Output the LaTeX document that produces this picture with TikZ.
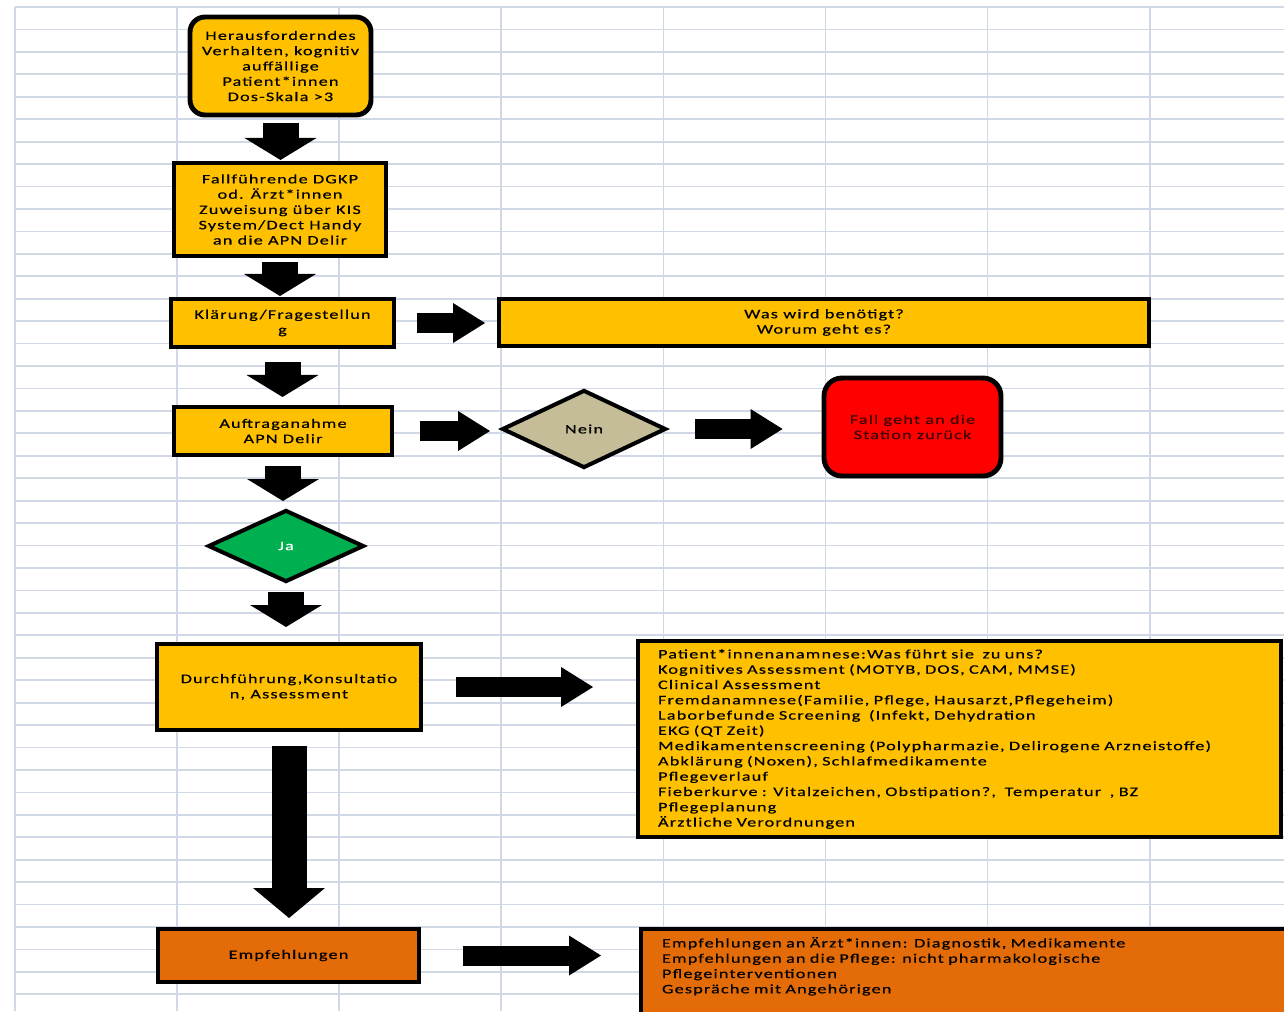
\documentclass[tikz,border=0pt]{standalone}
\usepackage{fontspec}
\usepackage{tikz}
\usetikzlibrary{shapes.geometric,arrows.meta}
\setmainfont{Carlito}[FakeStretch=1.4,LetterSpace=9,FakeBold=0.4]
\definecolor{boxyellow}{RGB}{255,192,0}
\definecolor{boxorange}{RGB}{227,108,9}
\definecolor{neinbeige}{RGB}{196,189,151}
\definecolor{jagreen}{RGB}{0,176,80}
\definecolor{stopred}{RGB}{255,0,0}
\definecolor{gridblue}{RGB}{208,215,229}

\begin{document}
\begin{tikzpicture}[x=0.02cm,y=-0.02cm,
  every node/.style={font=\fontsize{7.4}{8.7}\selectfont},
  flowbox/.style={draw=black,line width=2.3pt,fill=boxyellow,align=center,inner sep=0pt},
  decision/.style={diamond,draw=black,line width=2.3pt,inner sep=0pt},
  downarrow/.style={line width=0.72cm,-{Triangle[length=0.44cm,width=1.44cm,line width=0pt]}},
  longarrow/.style={line width=0.7cm,-{Triangle[length=0.6cm,width=1.44cm,line width=0pt]}},
  rightarrow/.style={line width=0.4cm,-{Triangle[length=0.64cm,width=0.8cm,line width=0pt]}},
  gridline/.style={gridblue,line width=1pt}]
\useasboundingbox (0,0) rectangle (1284,1011);
\fill[white] (0,0) rectangle (1284,1011);
\clip (0,0) rectangle (1284,1011);

% Spreadsheet grid
\foreach \k in {0,...,44}
  \draw[gridline] (15,{7+22.44*\k}) -- (1284,{7+22.44*\k});
\foreach \k in {0,...,7}
  \draw[gridline] ({15+162.1*\k},7) -- ({15+162.1*\k},1011);

% Main path
\node[flowbox,rounded corners=0.3cm,line width=2.8pt,minimum width=3.62cm,minimum height=1.96cm] (start) at (280.5,66)
  {Herausforderndes\\Verhalten, kognitiv\\auffällige\\Patient*innen\\Dos-Skala >3};
\node[flowbox,minimum width=4.24cm,minimum height=1.86cm] (zuweisung) at (280,209.5)
  {Fallführende DGKP\\od. Ärzt*innen\\Zuweisung über KIS\\System/Dect Handy\\an die APN Delir};
\node[flowbox,minimum width=4.46cm,minimum height=0.96cm] (klaerung) at (282.5,323) {Klärung/Fragestellun\\g};
\node[flowbox,minimum width=4.36cm,minimum height=0.96cm] (auftrag) at (283,431) {Auftraganahme\\APN Delir};
\node[decision,fill=jagreen,text=white,minimum width=3.12cm,minimum height=1.44cm] (ja) at (286,546) {Ja};
\node[flowbox,minimum width=5.28cm,minimum height=1.72cm] (durch) at (289,687) {Durchführung,Konsultatio\\n, Assessment};
\node[flowbox,fill=boxorange,minimum width=5.22cm,minimum height=1.06cm] (empf) at (288.5,955.5) {Empfehlungen};

% Side branches
\node[flowbox,minimum width=13cm,minimum height=0.94cm] (bedarf) at (824,322.5) {Was wird benötigt?\\Worum geht es?};
\node[decision,fill=neinbeige,minimum width=3.28cm,minimum height=1.56cm] (nein) at (584,429) {Nein};
\node[flowbox,fill=stopred,rounded corners=0.36cm,line width=2.8pt,text=red!25!black,minimum width=3.54cm,minimum height=1.96cm] (station) at (912.5,427)
  {Fall geht an die\\Station zurück};
\node[flowbox,align=left,text width=12.06cm,inner xsep=0.4cm,minimum height=3.92cm] (assessment) at (959.5,739)
  {Patient*innenanamnese:Was führt sie\ \ zu uns?\\
   Kognitives Assessment (MOTYB, DOS, CAM, MMSE)\\
   Clinical Assessment\\
   Fremdanamnese(Familie, Pflege, Hausarzt,Pflegeheim)\\
   Laborbefunde Screening\ \ (Infekt, Dehydration\\
   EKG (QT Zeit)\\
   Medikamentenscreening (Polypharmazie, Delirogene Arzneistoffe)\\
   Abklärung (Noxen), Schlafmedikamente\\
   Pflegeverlauf\\
   Fieberkurve : Vitalzeichen, Obstipation?,\ \ Temperatur\ \ , BZ\\
   Pflegeplanung\\
   Ärztliche Verordnungen};
\node[flowbox,fill=boxorange,align=left,anchor=north west,text width=13cm,inner xsep=0.42cm,inner ysep=0.16cm,text depth=2cm] (empfliste) at (639,927)
  {Empfehlungen an Ärzt*innen: Diagnostik, Medikamente\\
   Empfehlungen an die Pflege: nicht pharmakologische\\
   Pflegeinterventionen\\
   Gespräche mit Angehörigen};

% Arrows down
\draw[downarrow,shorten <=0.12cm,shorten >=0.02cm] (start.south) -- (start.south |- zuweisung.north);
\draw[downarrow,shorten <=0.08cm,shorten >=0.02cm] (zuweisung.south) -- (zuweisung.south |- klaerung.north);
\draw[downarrow,shorten <=0.26cm,shorten >=0.16cm] (klaerung.south) -- (klaerung.south |- auftrag.north);
\draw[downarrow,shorten <=0.18cm,shorten >=0.14cm] (auftrag.south) -- (auftrag.south |- ja.north);
\draw[downarrow,shorten <=0.16cm,shorten >=0.3cm] (ja.south) -- (ja.south |- durch.north);
\draw[longarrow,shorten <=0.28cm,shorten >=0.18cm] (durch.south) -- (durch.south |- empf.north);

% Arrows right
\draw[rightarrow,shorten <=0.42cm,shorten >=0.24cm] (klaerung.east) -- (klaerung.east -| bedarf.west);
\draw[rightarrow,shorten <=0.52cm,shorten >=0.2cm] (auftrag.east) -- (auftrag.east -| nein.west);
\draw[rightarrow,shorten <=0.54cm,shorten >=0.78cm] (nein.east) -- (nein.east -| station.west);
\draw[rightarrow,shorten <=0.66cm,shorten >=0.86cm] (durch.east) -- (durch.east -| assessment.west);
\draw[rightarrow,shorten <=0.84cm,shorten >=0.76cm] (empf.east) -- (empf.east -| empfliste.west);
\end{tikzpicture}
\end{document}
